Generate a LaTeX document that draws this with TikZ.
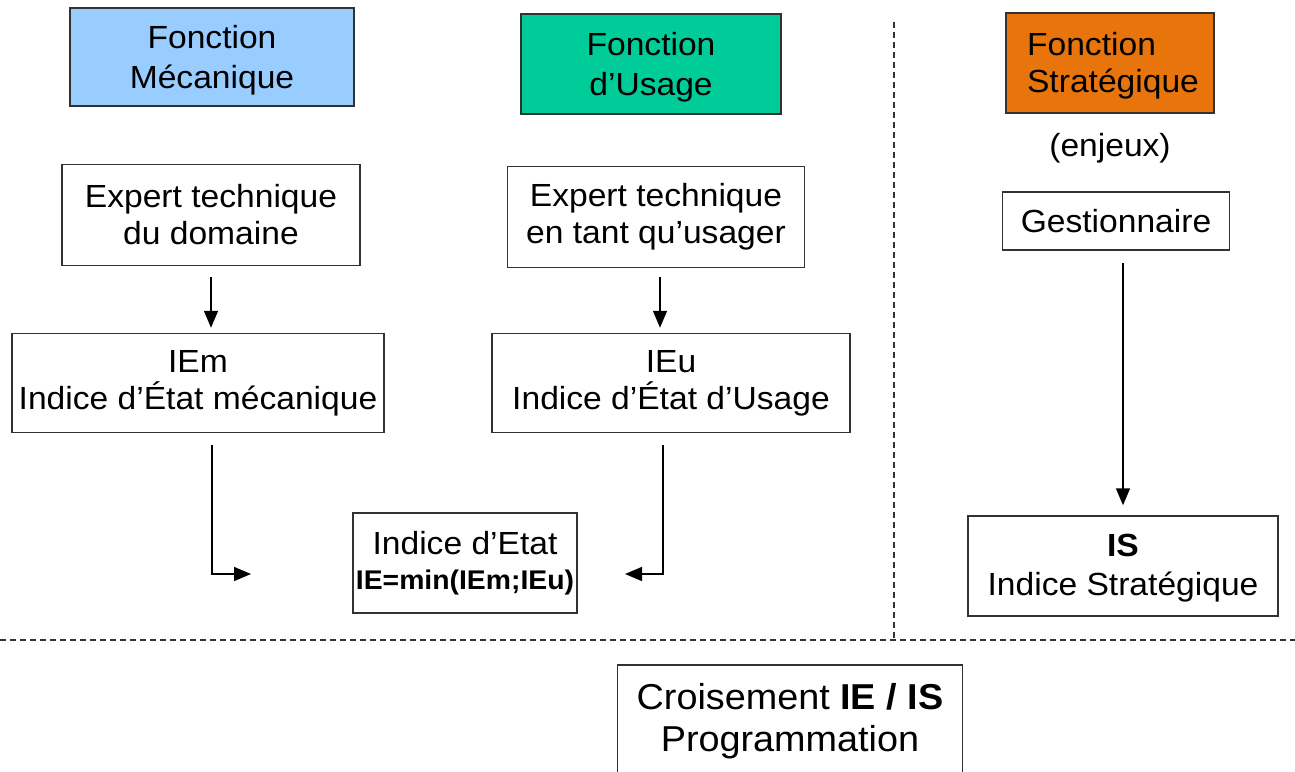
\documentclass[tikz,border=0pt]{standalone}
\usepackage{fontspec}
\setmainfont{Liberation Sans}[FakeStretch=1.05]
\usetikzlibrary{arrows.meta}
\definecolor{mecablue}{RGB}{153,204,255}
\definecolor{usagegreen}{RGB}{0,204,153}
\definecolor{stratorange}{RGB}{232,117,12}
\definecolor{edge}{RGB}{50,50,50}
\begin{document}
\begin{tikzpicture}[x=1pt,y=-1pt,
  box/.style={draw=edge, line width=1.5pt, inner sep=0pt, align=center,
    font=\fontsize{32}{37}\selectfont},
  txt/.style={inner sep=0pt, align=center, font=\fontsize{32}{37}\selectfont},
  arr/.style={line width=1.5pt, -{Triangle[length=17pt,width=14pt]}},
  sepline/.style={line width=1.2pt, dash pattern=on 6pt off 4pt, draw=edge}]
\useasboundingbox (0,0) rectangle (1295,771);
\fill[white] (0,0) rectangle (1295,771);

% top row
\node[box, fill=mecablue, minimum width=284pt, minimum height=98pt] (fm) at (212,57) {};
\node[txt] (fmt) at (212,60) {Fonction\\[3pt]Mécanique};
\node[box, fill=usagegreen, minimum width=260pt, minimum height=100pt] (fu) at (651,64) {};
\node[txt] (fut) at (651,67) {Fonction\\[3pt]d’Usage};
\node[box, fill=stratorange, minimum width=208pt, minimum height=100pt] (fs) at (1110,63) {};
\node[txt, align=left] (fst) at (1113,66) {Fonction\\Stratégique};
\node[txt] (enj) at (1110,148) {(enjeux)};

% experts
\node[box, minimum width=298pt, minimum height=101pt] (ex1) at (211,215) {Expert technique\\du domaine};
\node[box, minimum width=297pt, minimum height=101pt] (ex2) at (656,217) {Expert technique\\en tant qu’usager};
\node[box, minimum width=227pt, minimum height=58pt] (ges) at (1116,221) {Gestionnaire};

% indices
\node[box, minimum width=372pt, minimum height=99pt] (iem) at (198,383) {IEm\\Indice d’État mécanique};
\node[box, minimum width=358pt, minimum height=99pt] (ieu) at (671,383) {IEu\\Indice d’État d’Usage};
\node[box, minimum width=224pt, minimum height=100pt] (ie) at (465,563)
  {Indice d’Etat\\[-2pt]{\fontsize{27}{30}\selectfont\bfseries IE=min(IEm;IEu)}};
\node[box, minimum width=310pt, minimum height=100pt] (is) at (1123,566) {};
\node[txt] (ist) at (1123,568) {\textbf{IS}\\[2pt]Indice Stratégique};

% bottom
\node[box, minimum width=345pt, minimum height=112pt, font=\fontsize{36}{42}\selectfont] (cr) at (790,721)
  {Croisement \textbf{IE / IS}\\Programmation};

% separators
\coordinate (hl) at (0,640);
\coordinate (hr) at (1295,640);
\coordinate (vt) at (894,22);
\coordinate (vb) at (894,640);
\draw[sepline] (hl) -- (hr);
\draw[sepline] (vt) -- (vb);

% arrows
\draw[arr] ([yshift=-11pt]ex1.south) -- ([yshift=5pt]ex1.south |- iem.north);
\draw[arr] ([xshift=4pt,yshift=-9pt]ex2.south) -- ([xshift=4pt,yshift=5pt]ex2.south |- ieu.north);
\draw[arr] ([yshift=-12pt]is.north |- ges.south) -- ([yshift=10pt]is.north);

\coordinate (la) at (212,445);
\coordinate (lb) at (251,574);
\coordinate (ra) at (663,445);
\coordinate (rb) at (625,574);
\draw[arr] (la) |- (lb);
\draw[arr] (ra) |- (rb);
\end{tikzpicture}
\end{document}
